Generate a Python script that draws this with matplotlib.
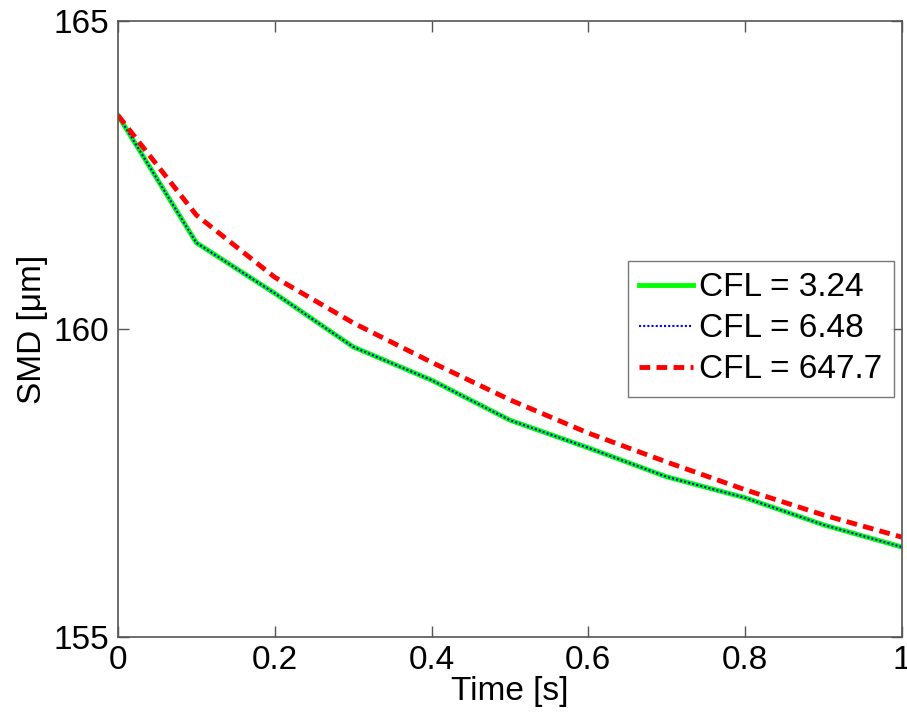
import numpy as np
import matplotlib.pyplot as plt

# ====================================
# data
# ====================================

time_s = [0.0, 0.1, 0.2, 0.3, 0.4, 0.5, 0.6, 0.7, 0.8, 0.9, 1.0]

smd_cfl_324 = [163.47, 161.40, 160.58, 159.71, 159.17, 158.52,
               158.07, 157.60, 157.26, 156.82, 156.46]

smd_cfl_648 = [163.47, 161.40, 160.58, 159.71, 159.17, 158.52,
               158.07, 157.60, 157.26, 156.82, 156.46]

smd_cfl_6477 = [163.47, 161.85, 160.84, 160.10, 159.46, 158.85,
                158.31, 157.84, 157.39, 156.98, 156.62]

series_labels = ["CFL = 3.24", "CFL = 6.48", "CFL = 647.7"]

x_ticks = [0, 0.2, 0.4, 0.6, 0.8, 1]
x_tick_labels = ["0", "0.2", "0.4", "0.6", "0.8", "1"]
y_ticks = [155, 160, 165]

# ====================================
# plot
# ====================================

plt.rcParams['font.family'] = ['Liberation Sans', 'DejaVu Sans']

fig = plt.figure(figsize=(9.07, 7.17), dpi=100)
ax = fig.add_axes([0.130, 0.1116, 0.8645, 0.8591])

ax.plot(time_s, smd_cfl_324, color=(0, 1, 0), linewidth=3.5,
        label=series_labels[0])
ax.plot(time_s, smd_cfl_648, color=(0, 0, 1), linewidth=1.5,
        linestyle=(0, (1, 1)), label=series_labels[1])
ax.plot(time_s, smd_cfl_6477, color=(1, 0, 0), linewidth=3.5,
        linestyle=(0, (2.2, 1.3)), label=series_labels[2])

ax.set_xlim(0, 1)
ax.set_ylim(155, 165)
ax.set_xticks(x_ticks)
ax.set_xticklabels(x_tick_labels)
ax.set_yticks(y_ticks)

ax.tick_params(direction='in', length=8, width=1, labelsize=24,
               top=True, right=True, color='#555555', pad=6)
for sp in ax.spines.values():
    sp.set_color('#555555')
    sp.set_linewidth(1.2)

ax.set_xlabel("Time [s]", fontsize=24, labelpad=0)
ax.set_ylabel("SMD [μm]", fontsize=24, labelpad=4)

leg = ax.legend(loc='center right', bbox_to_anchor=(0.99, 0.5),
                fontsize=24, frameon=True, fancybox=False,
                edgecolor='#555555', handlelength=1.6, handletextpad=0.2,
                labelspacing=0.3, borderpad=0.35, borderaxespad=0)
leg.get_frame().set_linewidth(1.0)

fig.savefig("out.png", dpi=100)
